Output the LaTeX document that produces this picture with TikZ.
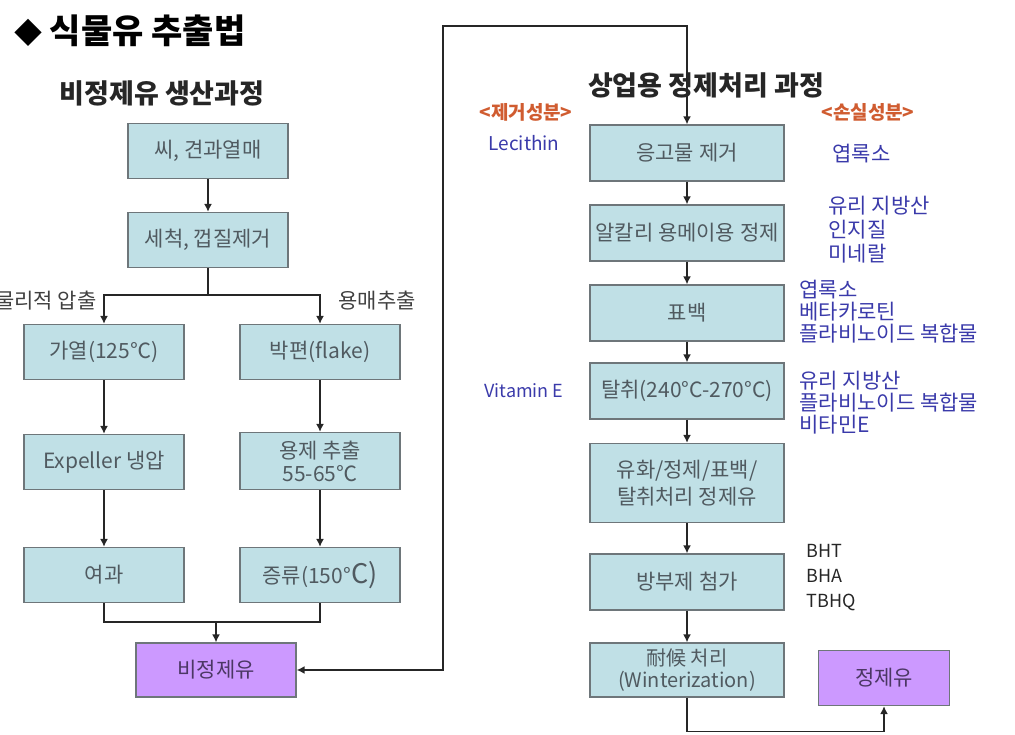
\documentclass[tikz,border=0pt]{standalone}
\usepackage{fontspec}
\setmainfont{Noto Sans CJK KR}
\usetikzlibrary{arrows.meta}
\definecolor{stepFill}{RGB}{192,224,230}
\definecolor{stepLine}{RGB}{110,118,122}
\definecolor{stepText}{RGB}{80,90,96}
\definecolor{oilFill}{RGB}{204,153,255}
\definecolor{oilText}{RGB}{75,55,100}
\definecolor{removeRed}{RGB}{208,92,48}
\definecolor{lossBlue}{RGB}{58,58,170}
\tikzset{
  procbox/.style={draw=stepLine, line width=1.2pt, fill=stepFill, text=stepText, align=center, minimum width=160pt, minimum height=55pt, inner xsep=1pt, inner ysep=2pt, font=\fontsize{21}{25}\selectfont},
  refbox/.style={procbox, minimum width=194pt},
  oilbox/.style={draw=stepLine, line width=1.2pt, fill=oilFill, text=oilText, align=center, minimum width=160pt, minimum height=54pt, inner sep=2pt, font=\fontsize{21}{25}\selectfont},
  arrow/.style={-{Latex[length=8pt,width=8pt]}, line width=1.6pt, black!85},
  link/.style={line width=1.6pt, black!85},
  heading/.style={font=\bfseries\fontsize{27}{30}\selectfont, text=black!85},
  branchtag/.style={font=\fontsize{21}{24}\selectfont, text=black!75},
  removed/.style={font=\bfseries\fontsize{19}{22}\selectfont, text=removeRed},
  lost/.style={align=left, anchor=west, text=lossBlue, font=\fontsize{21}{22}\selectfont},
  additive/.style={align=left, anchor=west, text=black!85, font=\fontsize{18}{25}\selectfont}
}

\begin{document}
\begin{tikzpicture}[x=1pt,y=-1pt]
  \useasboundingbox (0,0) rectangle (1015,735);

  % titles
  \node[anchor=west, font=\bfseries\fontsize{34}{36}\selectfont, inner sep=0pt] (maintitle) at (14,31) {{\fontsize{28}{30}\selectfont ◆} 식물유 추출법};
  \node[heading] (crudetitle) at (162,93) {비정제유 생산과정};
  \node[heading] (refinetitle) at (706,85) {상업용 정제처리 과정};

  % crude oil production
  \node[procbox] (seed) at (208,151) {씨, 견과열매};
  \node[procbox] (wash) at (208,240) {세척, 껍질제거};
  \node[procbox] (heat) at (104,352) {가열(125℃)};
  \node[procbox] (flake) at (320,352) {박편(flake)};
  \node[procbox] (expeller) at (104,462) {Expeller 냉압};
  \node[procbox, minimum height=57pt, font=\fontsize{21}{23}\selectfont] (solvent) at (320,461) {용제 추출\\55-65℃};
  \node[procbox] (filter) at (104,575) {여과};
  \node[procbox] (distil) at (320,575) {증류(150°{\fontsize{27}{27}\selectfont C)}};
  \node[oilbox] (crude) at (216,670) {비정제유};

  \node[branchtag, anchor=east] (presstag) at (100,301) {물리적 압출};
  \node[branchtag, anchor=west] (solventtag) at (335,301) {용매추출};

  \draw[arrow] (seed) -- (wash);
  \draw[link] (wash.south) -- ++(0,27) coordinate (split);
  \draw[arrow] (split) -| (heat.north);
  \draw[arrow] (split) -| (flake.north);
  \draw[arrow] (heat) -- (expeller);
  \draw[arrow] (expeller) -- (filter);
  \draw[arrow] (flake) -- (solvent);
  \draw[arrow] (solvent) -- (distil);
  \coordinate (join) at (216,622);
  \draw[link] (filter.south) |- (join) -| (distil.south);
  \draw[arrow] (join) -- (crude.north);

  % commercial refining
  \node[refbox, minimum height=56pt] (degum) at (687,153) {응고물 제거};
  \node[refbox, minimum height=56pt] (alkali) at (687,233) {알칼리 용메이용 정제};
  \node[refbox, minimum height=56pt] (bleach) at (687,313) {표백};
  \node[refbox, minimum height=56pt] (deodor) at (687,391) {탈취(240°C-270°C)};
  \node[refbox, minimum height=79pt, font=\fontsize{21}{27}\selectfont] (mixed) at (687,483) {유화/정제/표백/\\탈취처리 정제유};
  \node[refbox, minimum height=56pt] (preserve) at (687,582) {방부제 첨가};
  \node[refbox, minimum height=54pt, font=\fontsize{20}{22}\selectfont] (winter) at (687,670) {耐候 처리\\(Winterization)};
  \node[oilbox, minimum width=131pt, minimum height=55pt] (product) at (884,678) {정제유};

  \coordinate (turn) at (443,26);
  \draw[link, {Latex[length=8pt,width=8pt]}-{Latex[length=8pt,width=8pt]}] (crude.east) -| (turn) -| (degum.north);
  \draw[arrow] (degum) -- (alkali);
  \draw[arrow] (alkali) -- (bleach);
  \draw[arrow] (bleach) -- (deodor);
  \draw[arrow] (deodor) -- (mixed);
  \draw[arrow] (mixed) -- (preserve);
  \draw[arrow] (preserve) -- (winter);
  \draw[arrow] (winter.south) -- ++(0,34) -| (product.south);

  % removed and lost components
  \node[removed] (removehead) at (526,112) {<제거성분>};
  \node[removed] (losshead) at (868,112) {<손실성분>};
  \node[lost, anchor=center, font=\fontsize{19}{22}\selectfont] (lecithin) at (524,143) {Lecithin};
  \node[lost, anchor=center, font=\fontsize{18}{22}\selectfont] (vitamin) at (524,391) {Vitamin E};
  \node[lost] (lossdegum) at (829,154) {엽록소};
  \node[lost, font=\fontsize{21}{24}\selectfont] (lossalkali) at (825,230) {유리 지방산\\인지질\\미네랄};
  \node[lost] (lossbleach) at (796,312) {엽록소\\베타카로틴\\플라비노이드 복합물};
  \node[lost] (lossdeodor) at (796,403) {유리 지방산\\플라비노이드 복합물\\비타민E};
  \node[additive] (antiox) at (803,578) {BHT\\BHA\\TBHQ};
\end{tikzpicture}
\end{document}
